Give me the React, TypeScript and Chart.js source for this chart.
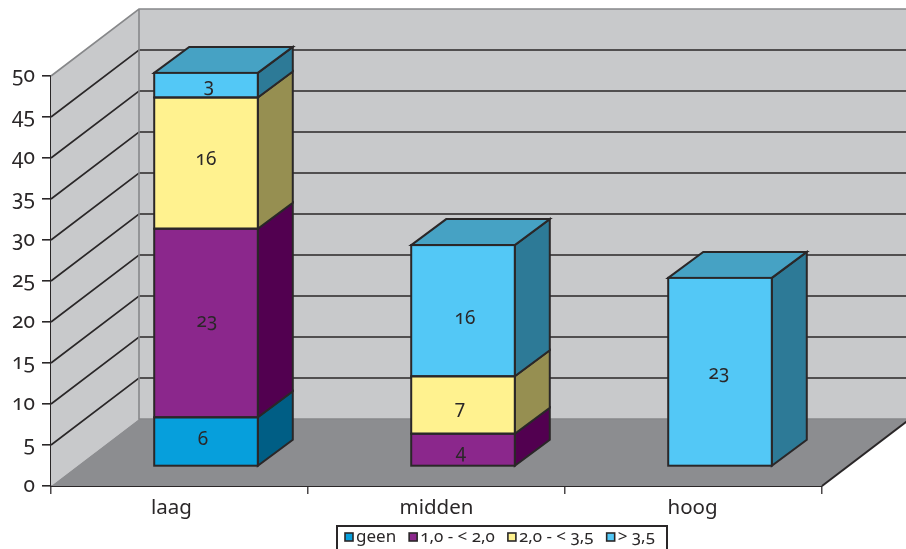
import React, { useEffect, useRef } from "react";
import { Chart, registerables } from "chart.js";

Chart.register(...registerables);

const categories = ["laag", "midden", "hoog"];
const geen = [6, 0, 0];
const eenTotTwee = [23, 4, 0];
const tweeTotDrieEnHalf = [16, 7, 0];
const bovenDrieEnHalf = [3, 16, 23];

const INK = "#2a2728";
const FONT = '"Noto Sans"';

// Extruded look: the room recedes by ROOM, each column sits BAR_OFFSET inside it
const ROOM = { dx: 88, dy: -67 };
const BAR_OFFSET = { dx: 26.5, dy: -19.5 };
const BAR_DEPTH = { dx: 35, dy: -26 };

// Hand-set label placement, per series then per category, as [dx, dy]
const valueLabelNudge = [
  [[-3, -2], [0, 0], [0, 0]],
  [[1, -1], [-2, 3], [0, 0]],
  [[0, -4], [-3, 4], [0, 0]],
  [[3, 1], [2, 8], [-1, 2]],
];
const categoryLabelNudge = [-8, 0, -1];

const faces = [
  { front: "#069fdc", side: "#005e85", top: "#047fb0" },
  { front: "#8b278c", side: "#520050", top: "#6f1f70" },
  { front: "#fff28f", side: "#968f51", top: "#ccc272" },
  { front: "#53c8f6", side: "#2d7a97", top: "#46a2c4" },
];

const polygon = (ctx: CanvasRenderingContext2D, pts: number[][], fill: string | null, stroke: string | null, lw = 2) => {
  ctx.beginPath();
  pts.forEach(([x, y], i) => (i ? ctx.lineTo(x, y) : ctx.moveTo(x, y)));
  ctx.closePath();
  if (fill) {
    ctx.fillStyle = fill;
    ctx.fill();
  }
  if (stroke) {
    ctx.strokeStyle = stroke;
    ctx.lineWidth = lw;
    ctx.lineJoin = "miter";
    ctx.stroke();
  }
};

// Walls, floor and receding gridlines behind the columns
const roomPlugin = {
  id: "room",
  beforeDatasetsDraw(chart: any) {
    const { ctx, chartArea, scales, width } = chart;
    const { left, right, top, bottom } = chartArea;
    const backL = left + ROOM.dx;
    const backT = top + ROOM.dy;
    const backB = bottom + ROOM.dy;
    ctx.save();
    polygon(ctx, [[left, top], [backL, backT], [backL, backB], [left, bottom]], "#c8c9cb", null);
    ctx.fillStyle = "#c8c9cb";
    ctx.fillRect(backL, backT, width - backL, backB - backT);
    polygon(ctx, [[left, bottom], [backL, backB], [right + ROOM.dx, backB], [right, bottom]], "#8c8d90", null);

    ctx.strokeStyle = INK;
    ctx.lineWidth = 1.6;
    scales.y.ticks.forEach((t: any) => {
      if (t.value === 0 || t.value === 50) return;
      const py = scales.y.getPixelForValue(t.value);
      ctx.beginPath();
      ctx.moveTo(left, py);
      ctx.lineTo(backL, py + ROOM.dy);
      ctx.lineTo(width, py + ROOM.dy);
      ctx.stroke();
    });

    ctx.strokeStyle = "#87888a";
    ctx.lineWidth = 1.6;
    ctx.beginPath();
    ctx.moveTo(left, top);
    ctx.lineTo(backL, backT);
    ctx.lineTo(width, backT);
    ctx.moveTo(backL, backT);
    ctx.lineTo(backL, backB);
    ctx.lineTo(width, backB);
    ctx.stroke();

    ctx.strokeStyle = INK;
    ctx.lineWidth = 2;
    ctx.beginPath();
    ctx.moveTo(right, bottom);
    ctx.lineTo(right + ROOM.dx, backB);
    ctx.stroke();

    // Side and top faces of the columns, lowest segment first
    ctx.translate(BAR_OFFSET.dx, BAR_OFFSET.dy);
    const { dx, dy } = BAR_DEPTH;
    categories.forEach((_, c) => {
      let lastIdx = -1;
      chart.data.datasets.forEach((ds: any, i: number) => {
        if (!ds.data[c]) return;
        lastIdx = i;
        const bar = chart.getDatasetMeta(i).data[c];
        const r = bar.x + bar.width / 2;
        polygon(ctx, [[r, bar.y], [r + dx, bar.y + dy], [r + dx, bar.base + dy], [r, bar.base]], faces[i].side, INK);
      });
      if (lastIdx >= 0) {
        const bar = chart.getDatasetMeta(lastIdx).data[c];
        const l = bar.x - bar.width / 2;
        const r = bar.x + bar.width / 2;
        polygon(ctx, [[l, bar.y], [l + dx, bar.y + dy], [r + dx, bar.y + dy], [r, bar.y]], faces[lastIdx].top, INK);
      }
    });
  },
  afterDatasetsDraw(chart: any) {
    const { ctx } = chart;
    ctx.font = `19px ${FONT}`;
    ctx.textAlign = "center";
    ctx.textBaseline = "middle";
    chart.data.datasets.forEach((ds: any, i: number) => {
      chart.getDatasetMeta(i).data.forEach((bar: any, c: number) => {
        if (!ds.data[c]) return;
        // Outline straddles the segment's true edges
        ctx.strokeStyle = INK;
        ctx.lineWidth = 2;
        ctx.strokeRect(bar.x - bar.width / 2, bar.y, bar.width, bar.base - bar.y);
        const [nx, ny] = valueLabelNudge[i][c];
        ctx.fillStyle = INK;
        ctx.fillText(String(ds.data[c]), bar.x + nx, (bar.y + bar.base) / 2 + ny);
      });
    });
    ctx.restore();
  },
};

// Category names under the floor edge and the boxed key along the bottom
const keyPlugin = {
  id: "key",
  afterDraw(chart: any) {
    const { ctx, height, scales, chartArea } = chart;
    const boxL = 337;
    const boxR = 667;
    const boxT = 526;
    ctx.save();
    ctx.fillStyle = INK;
    ctx.font = `20.5px ${FONT}`;
    ctx.textAlign = "center";
    ctx.textBaseline = "middle";
    categories.forEach((name, c) => {
      ctx.fillText(name, scales.x.getPixelForTick(c) + categoryLabelNudge[c], chartArea.bottom + 22);
    });

    ctx.strokeStyle = INK;
    ctx.lineWidth = 2;
    ctx.beginPath();
    ctx.moveTo(boxL, height);
    ctx.lineTo(boxL, boxT);
    ctx.lineTo(boxR, boxT);
    ctx.lineTo(boxR, height);
    ctx.stroke();
    ctx.font = `17px ${FONT}`;
    ctx.textAlign = "left";
    ctx.textBaseline = "alphabetic";
    let x = 345;
    chart.data.datasets.forEach((ds: any, i: number) => {
      ctx.fillStyle = faces[i].front;
      ctx.fillRect(x, 533, 8, 8);
      ctx.strokeStyle = INK;
      ctx.lineWidth = 1.6;
      ctx.strokeRect(x, 533, 8, 8);
      ctx.fillStyle = INK;
      ctx.fillText(ds.label, x + 11, 542);
      x += 11 + ctx.measureText(ds.label).width + 13;
    });
    ctx.restore();
  },
};

export default function App() {
  const ref = useRef<HTMLCanvasElement>(null);
  useEffect(() => {
    const canvas = ref.current!;
    const series = [
      { label: "geen", data: geen },
      { label: "1,0 - < 2,0", data: eenTotTwee },
      { label: "2,0 - < 3,5", data: tweeTotDrieEnHalf },
      { label: "> 3,5", data: bovenDrieEnHalf },
    ];
    const chart = new Chart(canvas, {
      type: "bar",
      data: {
        labels: categories,
        datasets: series.map((s, i) => ({
          ...s,
          backgroundColor: faces[i].front,
          borderWidth: 0,
          barPercentage: 0.403,
          categoryPercentage: 1,
          clip: false,
        })),
      },
      options: {
        responsive: false,
        animation: false,
        layout: { padding: { top: 76, right: 84, left: 0, bottom: 0 } },
        plugins: { legend: { display: false }, tooltip: { enabled: false } },
        scales: {
          x: {
            stacked: true,
            afterFit: (s: any) => {
              s.height = 63;
            },
            border: { color: INK, width: 2 },
            grid: { drawOnChartArea: false, color: "#4a4748", tickLength: 8, lineWidth: 1.5 },
            ticks: { display: false },
          },
          y: {
            stacked: true,
            min: 0,
            max: 50,
            afterFit: (s: any) => {
              s.width = 51;
            },
            border: { color: INK, width: 2 },
            grid: { drawOnChartArea: false, color: INK, tickLength: 9, lineWidth: 1.6 },
            ticks: { stepSize: 5, color: INK, font: { family: FONT, size: 21 }, padding: 7 },
          },
        },
      },
      plugins: [roomPlugin, keyPlugin],
    } as any);
    return () => chart.destroy();
  }, []);
  return (
    <div style={{ position: "fixed", left: 0, top: 0, width: 906, height: 549, background: "#fff" }}>
      <canvas
        ref={ref}
        width={906}
        height={549}
        style={{ display: "block", fontVariantNumeric: "oldstyle-nums", fontFeatureSettings: '"onum"' }}
      />
    </div>
  );
}
